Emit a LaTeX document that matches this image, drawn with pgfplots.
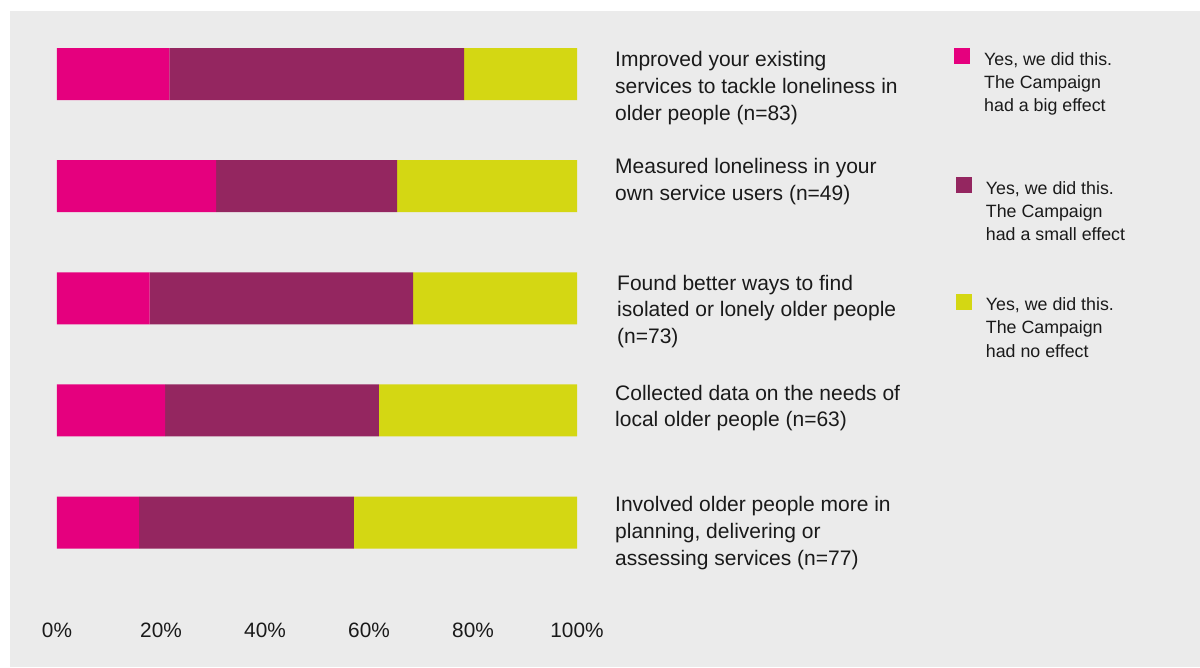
\documentclass[border=0pt]{standalone}
\usepackage{pgfplots}
\pgfplotsset{compat=1.18}
\usepackage{fontspec}
\setmainfont{Liberation Sans}
\definecolor{bgc}{RGB}{235,235,235}
\definecolor{pinkc}{RGB}{229,0,126}
\definecolor{purplec}{RGB}{148,38,96}
\definecolor{yellowc}{RGB}{212,215,19}
\definecolor{txt}{RGB}{26,26,26}
\newcommand{\catfont}{\fontsize{21.0}{26.8}\selectfont}
\newcommand{\legfont}{\fontsize{17.8}{23.2}\selectfont}
\newcommand{\lines}[1]{\begin{tabular}[t]{@{}l@{}}#1\end{tabular}}
\begin{document}
\begin{tikzpicture}[x=1pt,y=1pt]
\fill[white] (0,0) rectangle (1200,-667);
\fill[bgc] (10,-11) rectangle (1200,-667);
\begin{axis}[
  at={(57pt,-578.6pt)}, anchor=south west,
  scale only axis, width=520pt, height=560.6pt,
  xbar stacked, bar width=52pt,
  xmin=0, xmax=100, ymin=0.5, ymax=5.5, y dir=reverse,
  axis line style={draw=none}, major tick length=0pt, tick style={draw=none},
  ytick=\empty,
  xtick={0,20,40,60,80,100},
  xticklabels={0\%,20\%,40\%,60\%,80\%,100\%},
  xticklabel style={anchor=base, yshift=-58.4pt, font=\fontsize{20.8}{24}\selectfont, text=txt, inner sep=0pt},
  clip=false,
]
\addplot[fill=pinkc, draw=none] coordinates {(21.6,1) (30.6,2) (17.8,3) (20.8,4) (15.8,5)};
\addplot[fill=purplec, draw=none] coordinates {(56.7,1) (34.8,2) (50.7,3) (41.1,4) (41.3,5)};
\addplot[fill=yellowc, draw=none] coordinates {(21.7,1) (34.6,2) (31.5,3) (38.1,4) (42.9,5)};
\end{axis}
\begin{scope}[every node/.style={inner sep=0pt, text=txt}]
\node[anchor=base west, font=\catfont] at (615,-66.7) {\lines{Improved your existing\\services to tackle loneliness in\\older people (n=83)}};
\node[anchor=base west, font=\catfont] at (615,-173.3) {\lines{Measured loneliness in your\\own service users (n=49)}};
\node[anchor=base west, font=\catfont] at (617,-290) {\lines{Found better ways to find\\isolated or lonely older people\\(n=73)}};
\node[anchor=base west, font=\catfont] at (615,-400) {\lines{Collected data on the needs of\\local older people (n=63)}};
\node[anchor=base west, font=\catfont] at (615,-511.7) {\lines{Involved older people more in\\planning, delivering or\\assessing services (n=77)}};
\fill[pinkc] (954,-48) rectangle (970,-64);
\node[anchor=base west, font=\legfont] at (984,-65) {\lines{Yes, we did this.\\The Campaign\\had a big effect}};
\fill[purplec] (956,-177) rectangle (972,-193);
\node[anchor=base west, font=\legfont] at (985.7,-194) {\lines{Yes, we did this.\\The Campaign\\had a small effect}};
\fill[yellowc] (956,-294) rectangle (972,-310);
\node[anchor=base west, font=\legfont] at (985.7,-310.7) {\lines{Yes, we did this.\\The Campaign\\had no effect}};
\end{scope}
\end{tikzpicture}
\end{document}
